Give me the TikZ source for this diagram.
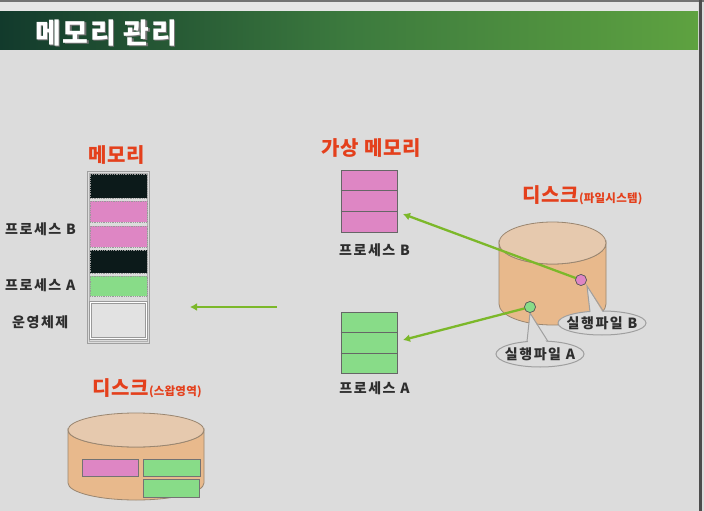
\documentclass[tikz,border=0pt]{standalone}
\usepackage{fontspec}
\setmainfont{Noto Sans CJK KR}
\usetikzlibrary{arrows.meta}
\definecolor{bg}{HTML}{DCDCDC}
\definecolor{topstrip}{HTML}{E6E6E6}
\definecolor{barl}{HTML}{123A2C}
\definecolor{barm}{HTML}{3C7A3E}
\definecolor{barr}{HTML}{5EA240}
\definecolor{pinkf}{HTML}{DE86C4}
\definecolor{greenf}{HTML}{88DC88}
\definecolor{blockblk}{HTML}{0C1A1A}
\definecolor{cylside}{HTML}{E8B98C}
\definecolor{cyltop}{HTML}{E6C9AE}
\definecolor{cylline}{HTML}{9A8670}
\definecolor{redt}{HTML}{E4401C}
\definecolor{agreen}{HTML}{7CB82A}
\definecolor{lbltext}{HTML}{2E2E2E}
\definecolor{osfill}{HTML}{E2E2E2}
\newcommand{\lblfont}{\bfseries\fontsize{14}{16}\selectfont\addfontfeature{LetterSpace=11}}
\newcommand{\bigred}{\bfseries\fontsize{20}{22}\selectfont\addfontfeature{LetterSpace=4}}
\newcommand{\smallred}{\bfseries\fontsize{11.5}{13}\selectfont\addfontfeature{LetterSpace=2}}
\begin{document}
\begin{tikzpicture}[x=1pt,y=-1pt,
  lbl/.style={font=\lblfont, text=lbltext, inner sep=0pt},
  redlbl/.style={font=\bigred, text=redt, inner sep=0pt},
  memblock/.style={draw=gray!80, densely dotted, line width=0.8pt, minimum width=57pt, inner sep=0pt},
  vmbox/.style={draw=black!60, line width=0.8pt, minimum width=56pt, inner sep=0pt},
  garrow/.style={draw=agreen, line width=2.3pt, -{Latex[length=7pt,width=8pt]}},
  dotstyle/.style={circle, draw=gray!70!black, line width=0.6pt, minimum size=11pt, inner sep=0pt},
  callout/.style={draw=gray!75, line width=1pt}
]
\useasboundingbox (0,0) rectangle (704,511);
% background
\fill[bg] (0,0) rectangle (704,511);
\fill[topstrip] (0,2) rectangle (698,12);
\fill[black!55] (0,0) rectangle (704,2);
\fill[black!70] (699,0) rectangle (701.5,511);
% title bar
\shade[left color=barl, right color=barr, middle color=barm] (0,12) rectangle (698,50);
\node[anchor=west, font=\bfseries\fontsize{28}{30}\selectfont\addfontfeature{LetterSpace=6}, text=black!55, inner sep=0pt] at (36.5,34.5) {메모리 관리};
\node[anchor=west, font=\bfseries\fontsize{28}{30}\selectfont\addfontfeature{LetterSpace=6}, text=white, inner sep=0pt] (title) at (35,33) {메모리 관리};

% ---- physical memory ----
\node[redlbl] (memlbl) at (117,155) {메모리};
\filldraw[fill=bg, draw=gray!75, line width=1pt] (87.5,171) rectangle (149.5,343);
\draw[gray!60, line width=0.5pt] (89.3,172.8) rectangle (147.7,341.2);
\node[memblock, fill=blockblk, minimum height=24pt] (m1) at (118.5,186) {};
\node[memblock, fill=pinkf, minimum height=21pt] (m2) at (118.5,211.5) {};
\node[memblock, fill=pinkf, minimum height=21pt] (m3) at (118.5,236.5) {};
\node[memblock, fill=blockblk, minimum height=23pt] (m4) at (118.5,261.5) {};
\node[memblock, fill=greenf, minimum height=20pt] (m5) at (118.5,286) {};
\node[draw=gray!80, double=white, double distance=1pt, line width=0.6pt, fill=osfill, minimum width=56pt, minimum height=36pt, inner sep=0pt] (m6) at (118.5,320.5) {};
\node[lbl, anchor=west] (pb) at (5,229) {프로세스 B};
\node[lbl, anchor=west] (pa) at (5,285) {프로세스 A};
\node[lbl, anchor=west] (os) at (12,322) {운영체제};

% middle arrow
\coordinate (ma1) at (277,307);
\coordinate (ma2) at (190,307);
\draw[garrow] (ma1) -- (ma2);

% ---- virtual memory ----
\node[redlbl] (vmlbl) at (371,148) {가상 메모리};
\node[vmbox, fill=pinkf, minimum height=62pt] (vmB) at (369,201) {};
\draw[black!60, line width=0.8pt] ([yshift=-20.7pt]vmB.north west) -- ([yshift=-20.7pt]vmB.north east);
\draw[black!60, line width=0.8pt] ([yshift=20.7pt]vmB.south west) -- ([yshift=20.7pt]vmB.south east);
\node[vmbox, fill=greenf, minimum height=61pt] (vmA) at (369,342.5) {};
\draw[black!60, line width=0.8pt] ([yshift=-20.3pt]vmA.north west) -- ([yshift=-20.3pt]vmA.north east);
\draw[black!60, line width=0.8pt] ([yshift=20.3pt]vmA.south west) -- ([yshift=20.3pt]vmA.south east);
\node[lbl] (vpb) at (374.5,250) {프로세스 B};
\node[lbl] (vpa) at (374.5,388) {프로세스 A};

% ---- disk (file system) ----
\node[anchor=west, inner sep=0pt, text=redt] (fslbl) at (522,195) {\bigred 디스크\smallred(파일시스템)};
\filldraw[fill=cylside, draw=cylline, line width=0.8pt] (499,243) -- (499,304) arc[start angle=180, end angle=0, x radius=53.5, y radius=21] -- (606,243) arc[start angle=0, end angle=180, x radius=53.5, y radius=21] -- cycle;
\filldraw[fill=cyltop, draw=cylline, line width=0.8pt] (552.5,243) ellipse[x radius=53.5, y radius=21];

% callout B
\coordinate (tipB) at (587,286);
\filldraw[fill=bg, callout] (602,323) ellipse[x radius=44, y radius=12];
\fill[bg] (tipB) -- (590.5,316) -- (603.5,314) -- cycle;
\draw[callout] (590,312) -- (tipB) -- (603.5,311.5);
\node[lbl] (exB) at (602,323) {실행파일 B};
% callout A
\coordinate (tipA) at (530,313);
\filldraw[fill=bg, callout] (540,354) ellipse[x radius=44, y radius=13];
\fill[bg] (tipA) -- (527.5,346) -- (548.5,346) -- cycle;
\draw[callout] (527,341.5) -- (tipA) -- (548,341.5);
\node[lbl] (exA) at (540,354) {실행파일 A};

% arrows from executable files to virtual memory
\node[dotstyle] (dotB) at (581,280) {};
\node[dotstyle] (dotA) at (530,307) {};
\coordinate (vmBin) at (403,214);
\coordinate (vmAin) at (403,340);
\draw[garrow] (dotB.center) -- (vmBin);
\draw[garrow] (dotA.center) -- (vmAin);
\node[dotstyle, fill=pinkf] at (dotB) {};
\node[dotstyle, fill=greenf] at (dotA) {};

% ---- disk (swap) ----
\node[anchor=west, inner sep=0pt, text=redt] (swlbl) at (92,388) {\bigred 디스크\smallred(스왑영역)};
\filldraw[fill=cylside, draw=cylline, line width=0.8pt] (68,430) -- (68,483) arc[start angle=180, end angle=0, x radius=68, y radius=17] -- (204,430) arc[start angle=0, end angle=180, x radius=68, y radius=17] -- cycle;
\filldraw[fill=cyltop, draw=cylline, line width=0.8pt] (136,430) ellipse[x radius=68, y radius=17];
\node[draw=black!55, line width=0.8pt, fill=pinkf, minimum width=56pt, minimum height=17pt, inner sep=0pt] (sp) at (110,467.5) {};
\node[draw=black!55, line width=0.8pt, fill=greenf, minimum width=57pt, minimum height=17pt, inner sep=0pt] (sg1) at (171.5,467.5) {};
\node[draw=black!55, line width=0.8pt, fill=greenf, minimum width=56pt, minimum height=18pt, inner sep=0pt] (sg2) at (171,488) {};
\end{tikzpicture}
\end{document}
